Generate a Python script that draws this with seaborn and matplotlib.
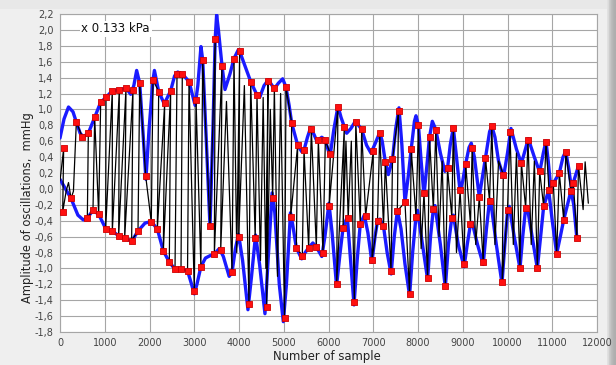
import numpy as np
import pandas as pd
import seaborn as sns
import matplotlib.pyplot as plt
from matplotlib.ticker import FixedLocator, FuncFormatter

# ---------------- data ----------------
# red markers on the upper envelope (peaks of the oscillations)
peak_x = [82, 365, 499, 633, 775, 909, 1028, 1169, 1326, 1475, 1631, 1781, 1915, 2078, 2205,
          2339, 2473, 2615, 2733, 2883, 3040, 3189, 3352, 3468, 3620, 3888, 4015, 4261, 4402,
          4648, 4790, 5050, 5177, 5311, 5453, 5616, 5773, 5929, 6041, 6210, 6354, 6610, 6741,
          7001, 7145, 7270, 7430, 7565, 7709, 7848, 8010, 8134, 8257, 8398, 8660, 8789, 8940,
          9065, 9210, 9370, 9508, 9650, 9906, 10056, 10310, 10458, 10719, 10860, 11024, 11158,
          11303, 11471, 11587]
peak_y = [0.51, 0.84, 0.655, 0.70, 0.90, 1.09, 1.15, 1.235, 1.245, 1.27, 1.24, 1.33, 0.16, 1.37,
          1.225, 1.08, 1.235, 1.45, 1.445, 1.35, 1.12, 1.62, -0.47, 1.89, 1.55, 1.64, 1.73, 1.35,
          1.18, 1.355, 1.27, 1.28, 0.83, 0.55, 0.49, 0.75, 0.61, 0.61, 0.44, 1.03, 0.78, 0.84,
          0.75, 0.48, 0.70, 0.34, 0.37, 0.98, -0.17, 0.50, 0.80, -0.05, 0.65, 0.745, 0.26, 0.765,
          -0.02, 0.315, 0.52, -0.10, 0.39, 0.785, 0.18, 0.71, 0.33, 0.62, 0.22, 0.595, 0.07, 0.20,
          0.46, 0.08, 0.29]

# red markers on the lower envelope (troughs of the oscillations)
trough_x = [60, 246, 611, 737, 864, 1021, 1169, 1311, 1445, 1601, 1743, 2040, 2175, 2309, 2443,
            2570, 2704, 2850, 3001, 3148, 3449, 3591, 3844, 3993, 4223, 4362, 4618, 4752, 5018,
            5155, 5281, 5415, 5557, 5728, 5877, 6015, 6183, 6325, 6440, 6577, 6710, 6830, 6972,
            7095, 7229, 7397, 7538, 7812, 7955, 8215, 8343, 8611, 8756, 9030, 9173, 9457, 9598,
            9880, 10000, 10279, 10406, 10667, 10808, 10928, 11099, 11256, 11419, 11550]
trough_y = [-0.29, -0.12, -0.365, -0.27, -0.32, -0.50, -0.53, -0.59, -0.62, -0.65, -0.53, -0.415,
            -0.505, -0.78, -0.92, -1.01, -1.005, -1.03, -1.29, -0.98, -0.82, -0.77, -1.05, -0.60,
            -1.45, -0.62, -1.48, -0.11, -1.63, -0.35, -0.74, -0.84, -0.74, -0.73, -0.81, -0.21,
            -1.19, -0.49, -0.37, -1.42, -0.44, -0.34, -0.89, -0.405, -0.47, -1.03, -0.275, -1.32,
            -0.35, -1.12, -0.25, -1.22, -0.36, -0.95, -0.44, -0.92, -0.15, -1.17, -0.26, -0.99,
            -0.24, -0.99, -0.22, -0.02, -0.815, -0.39, -0.03, -0.62]

# turning points of the raw signal that carry no marker (estimated from the strokes)
raw_x = [0, 140, 190, 300, 3720, 3950, 4120, 4480, 4540, 4600, 4700, 4860, 4930, 6390, 6510,
         8070, 8470, 8540, 8860, 9290, 9720, 9800, 10130, 10200, 10530, 10600, 11690, 11735,
         11806]
raw_y = [0.10, -0.02, 0.08, -0.03, 1.10, -0.80, 1.30, -0.90, 1.15, -1.00, 1.00, -1.10, 1.20,
         0.60, 0.60, -0.75, -0.60, 0.35, -0.80, -0.70, -0.70, 0.35, -0.70, 0.45, -0.70, 0.35,
         -0.26, 0.34, -0.18]

# upper blue envelope
up_x = [0, 90, 190, 290, 365, 450, 520, 633, 775, 909, 1028, 1169, 1326, 1475, 1580, 1650, 1713,
        1781, 1850, 1920, 1990, 2078, 2110, 2205, 2330, 2473, 2560, 2630, 2733, 2883, 3020, 3080,
        3150, 3189, 3270, 3352, 3420, 3468, 3500, 3540, 3620, 3687, 3800, 3888, 3985, 4015, 4150,
        4261, 4402, 4469, 4560, 4656, 4790, 4880, 4976, 5050, 5120, 5177, 5311, 5400, 5453, 5530,
        5600, 5680, 5740, 5850, 5929, 6034, 6120, 6212, 6280, 6354, 6406, 6500, 6600, 6741, 6850,
        6950, 7050, 7145, 7200, 7270, 7337, 7430, 7500, 7575, 7640, 7709, 7780, 7848, 7920, 7955,
        8010, 8070, 8134, 8200, 8257, 8320, 8398, 8500, 8600, 8660, 8720, 8789, 8860, 8940, 9000,
        9065, 9140, 9190, 9260, 9370, 9440, 9508, 9600, 9650, 9720, 9800, 9910, 10000, 10078,
        10200, 10310, 10400, 10465, 10600, 10719, 10800, 10860, 10910, 10975, 11024, 11158, 11240,
        11303, 11370, 11435, 11471, 11587]
up_y = [0.64, 0.88, 1.03, 0.97, 0.84, 0.70, 0.655, 0.70, 0.90, 1.09, 1.15, 1.235, 1.245, 1.27,
        1.19, 1.30, 1.49, 1.33, 0.75, 0.12, 0.75, 1.37, 1.49, 1.225, 1.07, 1.235, 1.42, 1.47, 1.445,
        1.35, 1.05, 1.30, 1.79, 1.62, 0.60, -0.47, 0.80, 1.89, 2.19, 2.00, 1.55, 1.25, 1.45, 1.64,
        1.75, 1.73, 1.52, 1.35, 1.18, 1.16, 1.30, 1.37, 1.26, 1.33, 1.385, 1.28, 1.05, 0.83, 0.55,
        0.47, 0.49, 0.65, 0.77, 0.68, 0.60, 0.65, 0.61, 0.41, 0.75, 1.04, 0.90, 0.78, 0.70, 0.76,
        0.85, 0.75, 0.55, 0.45, 0.58, 0.71, 0.60, 0.34, 0.18, 0.37, 0.75, 1.02, 0.55, -0.17, 0.15,
        0.50, 0.85, 0.92, 0.80, 0.35, -0.08, 0.30, 0.65, 0.85, 0.745, 0.45, 0.22, 0.26, 0.55, 0.77,
        0.40, -0.03, 0.10, 0.315, 0.52, 0.575, 0.40, -0.10, 0.15, 0.39, 0.72, 0.79, 0.65, 0.35,
        0.15, 0.45, 0.76, 0.50, 0.32, 0.50, 0.63, 0.40, 0.21, 0.45, 0.60, 0.35, -0.03, 0.07, 0.20,
        0.40, 0.47, 0.25, -0.02, 0.08, 0.29]

# lower blue envelope
lo_x = [0, 246, 400, 521, 611, 737, 864, 1021, 1169, 1311, 1445, 1601, 1743, 1900, 2040, 2175,
        2309, 2443, 2570, 2704, 2850, 2940, 3001, 3060, 3148, 3250, 3352, 3449, 3560, 3650, 3780,
        3844, 3920, 3990, 4080, 4200, 4280, 4370, 4460, 4580, 4650, 4740, 4800, 4900, 4990, 5060,
        5150, 5200, 5281, 5400, 5480, 5557, 5650, 5728, 5850, 5920, 6010, 6080, 6180, 6260, 6325,
        6420, 6480, 6570, 6640, 6710, 6800, 6880, 6970, 7040, 7095, 7150, 7229, 7310, 7400, 7470,
        7540, 7620, 7710, 7812, 7880, 7955, 7990, 8100, 8215, 8280, 8343, 8380, 8500, 8611, 8680,
        8756, 8790, 8900, 9030, 9100, 9173, 9210, 9330, 9457, 9530, 9598, 9620, 9750, 9877, 9940,
        10004, 10040, 10150, 10279, 10340, 10406, 10440, 10550, 10667, 10740, 10808, 10920, 11000,
        11099, 11180, 11256, 11420, 11480, 11550]
lo_y = [0.12, -0.12, -0.33, -0.39, -0.365, -0.27, -0.32, -0.50, -0.53, -0.59, -0.62, -0.66, -0.53,
        -0.43, -0.41, -0.505, -0.78, -0.92, -1.01, -1.005, -1.03, -1.20, -1.32, -1.20, -0.98,
        -0.87, -0.84, -0.82, -0.75, -0.85, -1.10, -1.05, -0.75, -0.57, -0.90, -1.52, -1.10, -0.58,
        -0.95, -1.57, -0.90, -0.05, -0.30, -1.20, -1.67, -1.20, -0.30, -0.45, -0.74, -0.88, -0.80,
        -0.74, -0.68, -0.73, -0.85, -0.60, -0.18, -0.55, -1.22, -0.80, -0.49, -0.35, -0.80, -1.46,
        -0.90, -0.44, -0.33, -0.55, -0.92, -0.60, -0.405, -0.38, -0.47, -0.80, -1.07, -0.60, -0.27,
        -0.50, -0.95, -1.34, -0.80, -0.35, -0.27, -0.70, -1.14, -0.60, -0.25, -0.21, -0.70, -1.24,
        -0.70, -0.36, -0.33, -0.70, -0.98, -0.70, -0.44, -0.42, -0.70, -0.95, -0.50, -0.15, -0.13,
        -0.70, -1.19, -0.70, -0.26, -0.22, -0.60, -1.00, -0.60, -0.24, -0.22, -0.60, -1.00, -0.60,
        -0.22, -0.02, -0.40, -0.815, -0.60, -0.39, -0.02, -0.20, -0.62]

y_ticks = [-1.8, -1.6, -1.4, -1.2, -1.0, -0.8, -0.6, -0.4, -0.2, 0.0, 0.2, 0.4, 0.6, 0.8, 1.0,
           1.2, 1.4, 1.6, 1.8, 2.0, 2.2]
x_ticks = [0, 1000, 2000, 3000, 4000, 5000, 6000, 7000, 8000, 9000, 10000, 11000, 12000]

# ---------------- tables ----------------
peaks = pd.DataFrame({"x": peak_x, "y": peak_y, "kind": 0})
troughs = pd.DataFrame({"x": trough_x, "y": trough_y, "kind": 1})
raw = pd.DataFrame({"x": raw_x, "y": raw_y, "kind": 2})
markers = pd.concat([peaks, troughs], ignore_index=True)
# order of the raw trace: each peak drops to the trough that sits just after it
signal = pd.concat([peaks, troughs, raw], ignore_index=True)
signal["order"] = signal["x"] + np.where(signal["kind"] == 1, 30, 0)
signal = signal.sort_values("order", kind="stable").reset_index(drop=True)
signal["unit"] = 0
upper = pd.DataFrame({"x": up_x, "y": up_y})
lower = pd.DataFrame({"x": lo_x, "y": lo_y})

# ---------------- figure ----------------
sns.set_style("white")
plt.rcParams['font.family'] = ['DejaVu Sans']

BG = "#efefef"
GRID = "#a6a6a6"
W, H = 616, 365
fig = plt.figure(figsize=(6.16, 3.65), dpi=100, facecolor=BG)

band = fig.add_axes([607 / W, 0, 9 / W, 1], zorder=0)
band.imshow(np.array([[0.88, 0.80, 0.74, 0.70, 0.68]]), cmap="gray", vmin=0, vmax=1,
            aspect="auto", extent=(0, 1, 0, 1))
band.set_axis_off()
top = fig.add_axes([0, 1 - 9 / H, 607 / W, 9 / H], zorder=0)
top.set_facecolor("#e8e8e8")
top.set_xticks([]); top.set_yticks([])
for s in top.spines.values():
    s.set_visible(False)

ax = fig.add_axes([60 / W, 1 - 332 / H, (597 - 60) / W, (332 - 14) / H], zorder=2)
ax.set_facecolor("white")

sns.lineplot(data=upper, x="x", y="y", ax=ax, color="#1a1aff", lw=2.4, sort=False,
             estimator=None, zorder=3)
sns.lineplot(data=lower, x="x", y="y", ax=ax, color="#1a1aff", lw=2.4, sort=False,
             estimator=None, zorder=3)
sns.lineplot(data=signal, x="x", y="y", units="unit", ax=ax, color="black", lw=0.9,
             sort=False, estimator=None, zorder=4)
sns.scatterplot(data=markers, x="x", y="y", ax=ax, marker="s", s=22, color="#ff1010",
                edgecolor="#d00000", linewidth=0.6, zorder=5)

ax.set_xlim(0, 12000)
ax.set_ylim(-1.8, 2.2)
ax.xaxis.set_major_locator(FixedLocator(x_ticks))
ax.yaxis.set_major_locator(FixedLocator(y_ticks))
ax.yaxis.set_major_formatter(FuncFormatter(
    lambda v, p: f"{v:.1f}".replace("-0.0", "0.0").replace(".", ",")))
ax.xaxis.set_major_formatter(FuncFormatter(lambda v, p: f"{int(round(v))}"))
ax.grid(True, color=GRID, lw=0.8)
for s in ax.spines.values():
    s.set_color(GRID)
    s.set_linewidth(0.8)
ax.tick_params(axis="both", which="major", length=3, width=0.8, color="#606060",
               labelsize=7, labelcolor="#444444", pad=1.5, direction="out")

ax.set_xlabel("Number of sample", fontsize=8.4, color="#222222", va="center")
ax.xaxis.set_label_coords(0.497, -0.077)
ax.set_ylabel("Amplitude of oscillations,  mmHg", fontsize=8.3, color="#222222")
ax.yaxis.set_label_coords(-0.048, 0.39)

ax.text(0.040, 0.953, "x 0.133 kPa", transform=ax.transAxes, fontsize=8.5, color="#111111",
        va="center", ha="left", zorder=6,
        bbox=dict(boxstyle="square,pad=0.15", fc="white", ec="none"))

fig.savefig("out.png", dpi=100, facecolor=BG)
